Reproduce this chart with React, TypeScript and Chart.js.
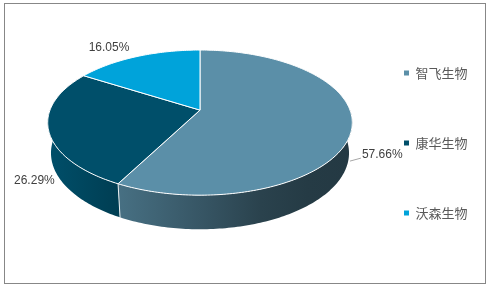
import React, { useEffect, useRef } from 'react';
import { Chart, registerables } from 'chart.js';

Chart.register(...registerables);

// ---- data ----
const categories: string[] = ['智飞生物', '康华生物', '沃森生物'];
const shares: number[] = [57.66, 26.29, 16.05];
const sliceColors: string[] = ['#5B8FA8', '#004F6A', '#00A3DA'];

function toRgb(hex: string): number[] {
  const n = parseInt(hex.slice(1), 16);
  return [(n >> 16) & 255, (n >> 8) & 255, n & 255];
}
function shade(hex: string, k: number): string {
  const [r, g, b] = toRgb(hex);
  return `rgb(${Math.round(r * k)},${Math.round(g * k)},${Math.round(b * k)})`;
}

const pie3dPlugin = {
  id: 'pie3d',
  beforeDatasetsDraw(chart: any, _args: any, opts: any) {
    const meta = chart.getDatasetMeta(0);
    const arcs = meta.data;
    if (!arcs || !arcs.length) return false;
    const ctx: CanvasRenderingContext2D = chart.ctx;
    const values: number[] = chart.data.datasets[0].data;
    const colors: string[] = chart.data.datasets[0].backgroundColor;
    const total = values.reduce((a, b) => a + b, 0);

    const first = arcs[0];
    const outer = first.outerRadius;
    const cx = first.x;
    const cy = first.y - outer * opts.lift;
    const R = opts.perspective;
    const phi = (opts.tilt * Math.PI) / 180;
    const sinP = Math.sin(phi);
    const cosP = Math.cos(phi);
    const kR = outer * opts.scale;
    const f = kR / R;
    const H = opts.thickness * R;
    const proj = (theta: number, r: number, level: number) => {
      const X = R * r * Math.sin(theta);
      const Z = R * r * Math.cos(theta);
      const depth = 1 + Z * cosP + level * sinP;
      return { x: cx + (f * X) / depth, y: cy + (f * (-Z * sinP + level * cosP)) / depth };
    };
    const HALF = Math.PI / 2;
    const DEG = Math.PI / 180;

    ctx.save();
    // side walls (front half only)
    const lo = Math.PI / 2;
    const hi = (3 * Math.PI) / 2;
    const xL = cx - kR * 1.02;
    const xR = cx + kR * 1.02;
    arcs.forEach((arc: any, i: number) => {
      const t0 = Math.max(arc.startAngle + HALF, lo);
      const t1 = Math.min(arc.endAngle + HALF, hi);
      if (t1 <= t0) return;
      const steps = Math.max(2, Math.ceil((t1 - t0) / DEG));
      ctx.beginPath();
      for (let s = 0; s <= steps; s++) {
        const p = proj(t0 + ((t1 - t0) * s) / steps, 1, 0);
        if (s === 0) ctx.moveTo(p.x, p.y);
        else ctx.lineTo(p.x, p.y);
      }
      for (let s = steps; s >= 0; s--) {
        const p = proj(t0 + ((t1 - t0) * s) / steps, 1, H);
        ctx.lineTo(p.x, p.y);
      }
      ctx.closePath();
      const g = ctx.createLinearGradient(xL, 0, xR, 0);
      opts.wallShade.forEach((st: number[]) => g.addColorStop(st[0], shade(colors[i], st[1])));
      ctx.fillStyle = g;
      ctx.fill();
    });
    // boundary lines on the walls
    ctx.strokeStyle = '#e8eef0';
    ctx.lineWidth = 1;
    arcs.forEach((arc: any) => {
      const t = arc.startAngle + HALF;
      if (t > lo && t < hi) {
        const a = proj(t, 1, 0);
        const b = proj(t, 1, H);
        ctx.beginPath();
        ctx.moveTo(a.x, a.y);
        ctx.lineTo(b.x, b.y);
        ctx.stroke();
      }
    });
    // top faces
    arcs.forEach((arc: any, i: number) => {
      const t0 = arc.startAngle + HALF;
      const t1 = arc.endAngle + HALF;
      const steps = Math.max(2, Math.ceil((t1 - t0) / DEG));
      ctx.beginPath();
      const c = proj(0, 0, 0);
      ctx.moveTo(c.x, c.y);
      for (let s = 0; s <= steps; s++) {
        const p = proj(t0 + ((t1 - t0) * s) / steps, 1, 0);
        ctx.lineTo(p.x, p.y);
      }
      ctx.closePath();
      ctx.fillStyle = colors[i];
      ctx.fill();
      ctx.strokeStyle = '#ffffff';
      ctx.lineWidth = 1;
      ctx.lineJoin = 'round';
      ctx.stroke();
    });
    // data labels
    ctx.font = '12px "Liberation Sans", Arial, sans-serif';
    ctx.textBaseline = 'middle';
    arcs.forEach((arc: any, i: number) => {
      const mid = (arc.startAngle + arc.endAngle) / 2 + HALF;
      const anchor = proj(mid, 1, 0);
      const lab = opts.labels[i];
      const x = anchor.x + lab.dx;
      const y = anchor.y + lab.dy;
      if (lab.leader) {
        ctx.strokeStyle = '#a6a6a6';
        ctx.lineWidth = 1;
        ctx.beginPath();
        ctx.moveTo(anchor.x + lab.leader[0], anchor.y + lab.leader[1]);
        ctx.lineTo(x - 1, y + 3);
        ctx.stroke();
      }
      ctx.fillStyle = '#404040';
      ctx.textAlign = lab.align;
      ctx.fillText(((values[i] / total) * 100).toFixed(2) + '%', x, y);
    });
    ctx.restore();
    return false;
  },
  afterDraw(chart: any) {
    const ctx: CanvasRenderingContext2D = chart.ctx;
    ctx.save();
    ctx.strokeStyle = '#878787';
    ctx.lineWidth = 1;
    ctx.strokeRect(4.5, 3.5, 481, 280);
    ctx.restore();
  },
};

export default function App() {
  const ref = useRef<HTMLCanvasElement | null>(null);
  useEffect(() => {
    if (!ref.current) return;
    const chart = new Chart(ref.current, {
      type: 'pie',
      data: {
        labels: categories,
        datasets: [{ data: shares, backgroundColor: sliceColors, borderWidth: 0 }],
      },
      options: {
        responsive: false,
        animation: false,
        layout: { padding: { left: 53, right: 13.5, top: 0, bottom: 0 } },
        plugins: {
          legend: {
            position: 'right',
            align: 'center',
            labels: {
              boxWidth: 5,
              boxHeight: 5,
              padding: 57,
              color: '#595959',
              font: { family: '"Noto Sans CJK SC", sans-serif', size: 13 },
            },
          },
          tooltip: { enabled: false },
          pie3d: {
            lift: 0.23,
            perspective: 0.195,
            tilt: 28,
            scale: 1.049,
            thickness: 0.232,
            wallShade: [
              [0, 1.0],
              [0.233, 0.78],
              [0.5, 0.6],
              [0.7, 0.46],
              [0.85, 0.41],
              [1, 0.4],
            ],
            labels: [
              { dx: 10, dy: 27.5, align: 'left', leader: [-2, 33.5] },
              { dx: -14, dy: 51, align: 'center' },
              { dx: -28, dy: -9, align: 'center' },
            ],
          },
        } as any,
      },
      plugins: [pie3dPlugin],
    });
    return () => chart.destroy();
  }, []);
  return (
    <div style={{ position: 'fixed', left: 0, top: 0, width: 491, height: 286, background: '#fff' }}>
      <canvas ref={ref} width={491} height={286} style={{ display: 'block' }} />
    </div>
  );
}
